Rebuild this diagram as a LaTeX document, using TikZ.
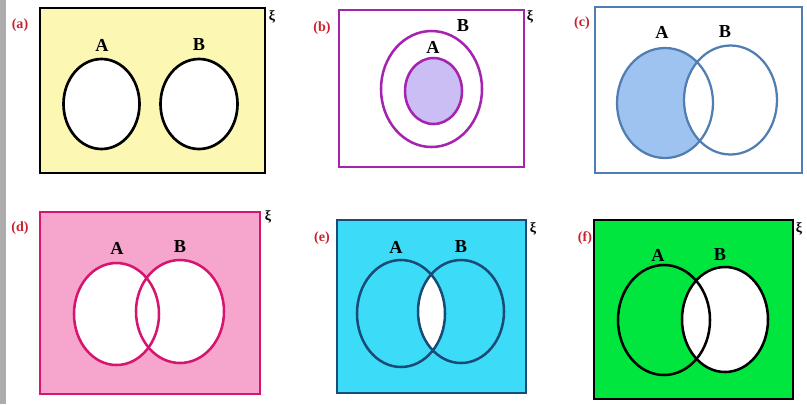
\documentclass[tikz,border=0pt]{standalone}
\usepackage{fontspec}
\setmainfont{Liberation Serif}
\usetikzlibrary{positioning}
\usepackage{xcolor}
\definecolor{vgray}{RGB}{172,172,172}
\definecolor{vred}{RGB}{200,35,45}
\definecolor{vyellow}{RGB}{252,247,178}
\definecolor{vpurple}{RGB}{165,35,175}
\definecolor{vlilac}{RGB}{202,190,245}
\definecolor{vsteel}{RGB}{80,125,178}
\definecolor{vsky}{RGB}{158,195,240}
\definecolor{vpink}{RGB}{246,165,205}
\definecolor{vcrimson}{RGB}{215,20,110}
\definecolor{vcyan}{RGB}{60,220,248}
\definecolor{vnavy}{RGB}{25,75,118}
\definecolor{vgreen}{RGB}{0,230,62}

\begin{document}
\begin{tikzpicture}[x=0.025cm, y=-0.025cm,
  tag/.style={font=\fontsize{10}{12}\selectfont\bfseries, text=vred, inner sep=0pt},
  setname/.style={font=\fontsize{13}{15}\selectfont\bfseries, inner sep=0pt},
  uni/.style={font=\fontsize{10}{11}\selectfont\bfseries, inner sep=0pt}]
\useasboundingbox (0,0) rectangle (807,404);
\fill[vgray] (0,0) rectangle (6,404);

% (a) disjoint sets
\draw[line width=1.9pt, fill=vyellow] (40,8) rectangle (265,173);
\draw[line width=1.9pt, fill=white] (101.5,104) ellipse [x radius=38, y radius=45];
\draw[line width=1.9pt, fill=white] (199,104) ellipse [x radius=38.5, y radius=45];
\node[tag] (tagA) at (20,25) {(a)};
\node[uni] (uniA) at (272,17) {ξ};
\node[setname] (aA) at (102,45) {A};
\node[setname] (aB) at (199,45) {B};

% (b) A inside B
\draw[line width=1.8pt, draw=vpurple] (339,10) rectangle (524,167);
\draw[line width=1.8pt, draw=vpurple] (431.5,89) ellipse [x radius=50.5, y radius=58];
\draw[line width=1.8pt, draw=vpurple, fill=vlilac] (433.5,91) ellipse [x radius=28.5, y radius=33];
\node[tag] (tagB) at (322,28) {(b)};
\node[uni] (uniB) at (530,17) {ξ};
\node[setname] (bA) at (433,47) {A};
\node[setname] (bB) at (463,26) {B};

% (c) A minus B
\draw[line width=1.6pt, draw=vsteel] (595,7) rectangle (802,173);
\fill[vsky] (665,103) ellipse [x radius=48, y radius=55];
\fill[white] (730.5,100) ellipse [x radius=46.5, y radius=54.5];
\draw[line width=1.6pt, draw=vsteel] (665,103) ellipse [x radius=48, y radius=55];
\draw[line width=1.6pt, draw=vsteel] (730.5,100) ellipse [x radius=46.5, y radius=54.5];
\node[tag] (tagC) at (582,23) {(c)};
\node[setname] (cA) at (662,32) {A};
\node[setname] (cB) at (725,32) {B};

% (d) complement of A union B
\draw[line width=1.8pt, draw=vcrimson, fill=vpink] (40,212) rectangle (260,394);
\fill[white] (116.5,314) ellipse [x radius=42.5, y radius=51];
\fill[white] (180,311.5) ellipse [x radius=44, y radius=51.5];
\draw[line width=1.8pt, draw=vcrimson] (116.5,314) ellipse [x radius=42.5, y radius=51];
\draw[line width=1.8pt, draw=vcrimson] (180,311.5) ellipse [x radius=44, y radius=51.5];
\node[tag] (tagD) at (20,228) {(d)};
\node[uni] (uniD) at (268,217) {ξ};
\node[setname] (dA) at (117,248) {A};
\node[setname] (dB) at (180,247) {B};

% (e) complement of A intersect B
\draw[line width=1.8pt, draw=vnavy, fill=vcyan] (337,220) rectangle (526,393);
\begin{scope}
  \clip (401,313.5) ellipse [x radius=44, y radius=53.5];
  \fill[white] (461,311.5) ellipse [x radius=43, y radius=51.5];
\end{scope}
\draw[line width=1.8pt, draw=vnavy] (401,313.5) ellipse [x radius=44, y radius=53.5];
\draw[line width=1.8pt, draw=vnavy] (461,311.5) ellipse [x radius=43, y radius=51.5];
\node[tag] (tagE) at (322,238) {(e)};
\node[uni] (uniE) at (533,229) {ξ};
\node[setname] (eA) at (396,247) {A};
\node[setname] (eB) at (461,247) {B};

% (f) complement of B
\draw[line width=1.8pt, fill=vgreen] (594,220) rectangle (793,399);
\fill[white] (725,319.5) ellipse [x radius=43, y radius=52.5];
\draw[line width=1.8pt] (664,320) ellipse [x radius=46, y radius=55];
\draw[line width=1.8pt] (725,319.5) ellipse [x radius=43, y radius=52.5];
\node[tag] (tagF) at (585,238) {(f)};
\node[uni] (uniF) at (799,229) {ξ};
\node[setname] (fA) at (658,255) {A};
\node[setname] (fB) at (720,255) {B};
\end{tikzpicture}
\end{document}
